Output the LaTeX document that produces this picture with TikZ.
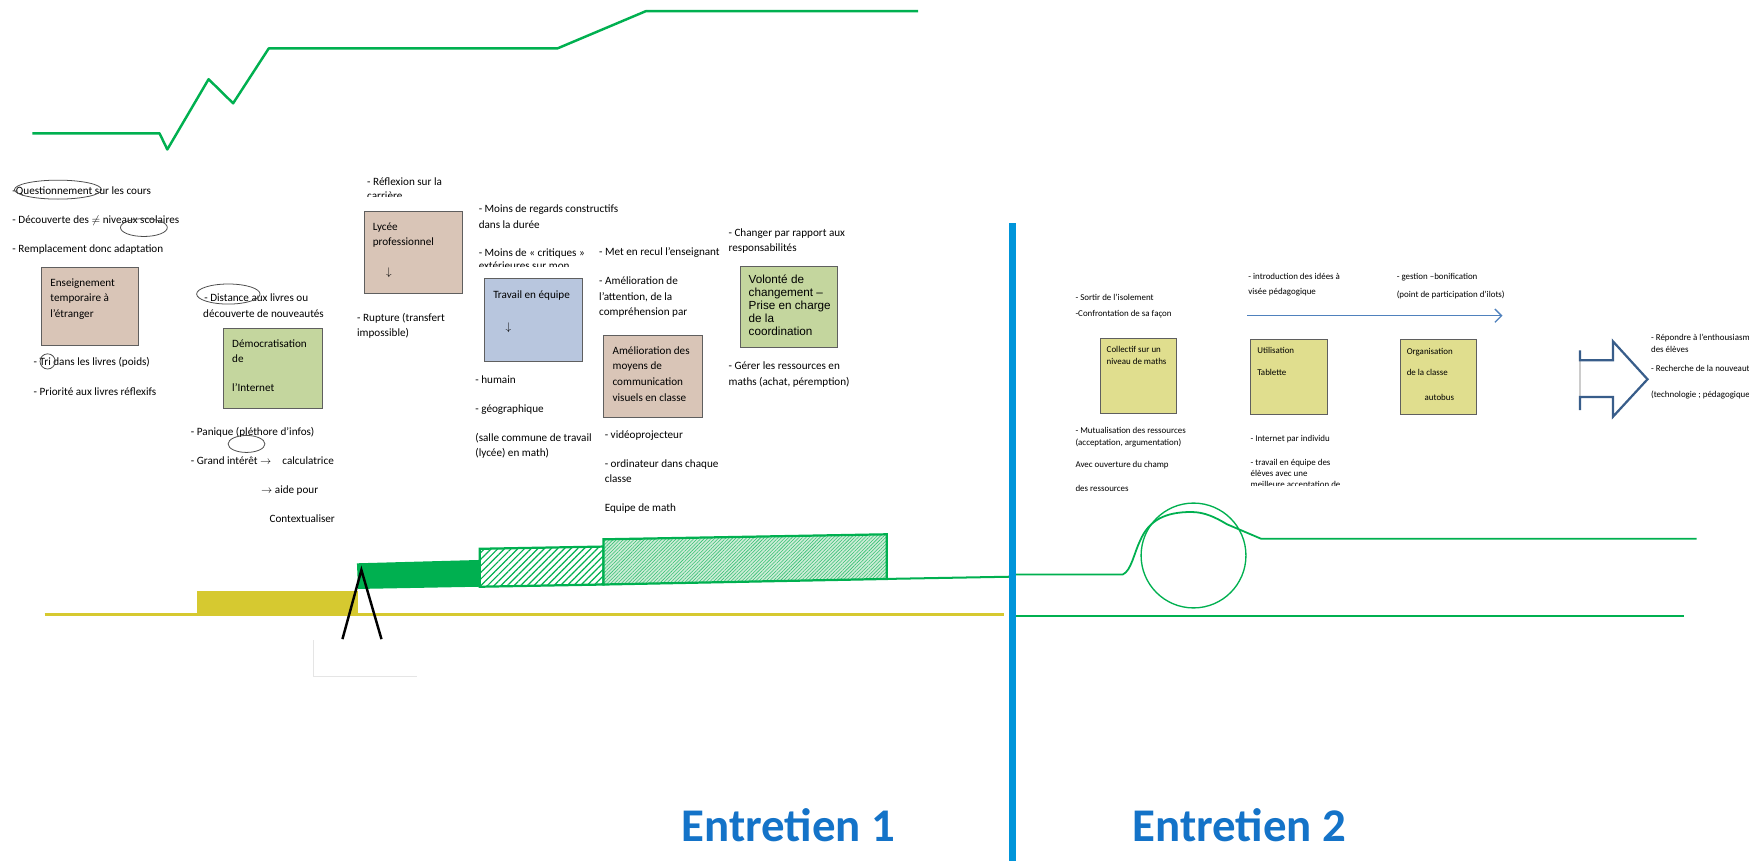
\documentclass[tikz,border=0pt]{standalone}
\usepackage{fontspec}
\setmainfont{Carlito}
\newfontfamily\arialfont{Liberation Sans}
\usetikzlibrary{arrows.meta,patterns.meta}

\definecolor{tanbox}{RGB}{217,197,183}
\definecolor{olivebox}{RGB}{196,214,158}
\definecolor{bluebox}{RGB}{184,198,222}
\definecolor{yellowbox}{RGB}{224,222,142}
\definecolor{cardgray}{RGB}{95,95,95}
\definecolor{timegreen}{RGB}{0,176,80}
\definecolor{palegreen}{RGB}{205,236,214}
\definecolor{oldyellow}{RGB}{214,201,48}
\definecolor{dividerblue}{RGB}{0,149,218}
\definecolor{labelblue}{RGB}{20,115,200}
\definecolor{steelarrow}{RGB}{79,129,189}
\definecolor{shapeblue}{RGB}{56,93,138}

% base west = baseline of the last line for multi-line texts
\tikzset{
  txt/.style={anchor=base west, inner sep=0pt, align=left, font=\fontsize{10}{14}\selectfont},
  smalltxt/.style={anchor=base west, inner sep=0pt, align=left, font=\fontsize{8}{10.5}\selectfont},
  card/.style={draw=cardgray, line width=0.9pt, anchor=north west, inner sep=0pt},
  ring/.style={draw=black!70, line width=0.7pt},
  growth/.style={draw=timegreen, line width=2.2pt, line join=round},
  entretien/.style={inner sep=0pt, text=labelblue, font=\fontsize{42}{48}\selectfont\bfseries},
}

\begin{document}
\begin{tikzpicture}[x=1pt,y=-1pt]
\fill[white] (0,0) rectangle (1568,772);
\useasboundingbox (0,0) rectangle (1568,772);

% courbe du haut
\draw[growth] (29,119.5) -- (143,119.5) -- (150,134) -- (187,71) -- (209,92.6)
  -- (241,43.3) -- (500,43.3) -- (579,10) -- (823,10);

% --- entretien 1 ---
\node[txt] (quest) at (11,174.5) {-Questionnement sur les cours};
\node[txt] (decouv) at (11,200.5) {- Découverte des $\neq$ niveaux scolaires};
\node[txt] (rempl) at (11,226.5) {- Remplacement donc adaptation};
\draw[ring] (52,170) ellipse [x radius=39, y radius=8.5];
\draw[ring] (129,204) ellipse [x radius=21, y radius=8];

\node[card, fill=tanbox, minimum width=87.5, minimum height=70] (ens) at (36.5,239) {};
\node[txt] (ensT) at (45,284.5) {Enseignement\\temporaire à\\l'étranger};
\node[txt] (tri) at (30,328) {- Tri dans les livres (poids)};
\node[txt] (prio) at (30,354.5) {- Priorité aux livres réflexifs};
\draw[ring] (42.7,324) circle [radius=6.8];

\node[txt] (dist) at (183,270) {- Distance aux livres ou};
\node[txt] (nouv) at (182,284.5) {découverte de nouveautés};
\draw[ring] (204.7,263.6) ellipse [x radius=28.4, y radius=9];
\node[card, fill=olivebox, minimum width=88.5, minimum height=72] (demo) at (200,294) {};
\node[txt, font=\fontsize{10}{13.3}\selectfont] (demoT) at (208,351.4) {Démocratisation\\de\\[13.3pt]l'Internet};
\node[txt] (pan) at (171,390) {- Panique (pléthore d'infos)};
\draw[ring] (221,398) ellipse [x radius=16.5, y radius=7.6];
\node[txt] (grand) at (171,416) {- Grand intérêt $\rightarrow$\quad calculatrice};
\node[txt] (aide) at (234,442) {$\rightarrow$ aide pour};
\node[txt] (cont) at (241.5,468) {Contextualiser};

\node[txt] (refl) at (329,166.5) {- Réflexion sur la};
\begin{scope}
  \clip (320,165) rectangle (420,176.5);
  \node[txt] (carr) at (329,178.5) {carrière};
\end{scope}
\node[card, fill=tanbox, minimum width=88, minimum height=73.5] (lycee) at (326,189) {};
\node[txt] (lyceeT) at (334,220.5) {Lycée\\professionnel};
\node[txt] (lyceeA) at (346,247) {$\downarrow$};
\node[txt] (rupt) at (320,302) {- Rupture (transfert\\impossible)};

\node[txt] (regard) at (429,204.5) {- Moins de regards constructifs\\dans la durée};
\node[txt] (crit) at (429,229.5) {- Moins de « critiques »};
\begin{scope}
  \clip (420,233) rectangle (530,239);
  \node[txt] (exter) at (429,241.5) {extérieures sur mon};
\end{scope}
\node[card, fill=bluebox, minimum width=88, minimum height=74] (trav) at (434,249.5) {};
\node[txt] (travT) at (442,267.5) {Travail en équipe};
\node[txt] (travA) at (453,296) {$\downarrow$};
\node[txt] (hum) at (426,344) {- humain};
\node[txt] (geo) at (426,370) {- géographique};
\node[txt, font=\fontsize{10}{13.5}\selectfont] (salle) at (426,409.5) {(salle commune de travail\\(lycée) en math)};

\node[txt] (recul) at (537,229) {- Met en recul l'enseignant};
\node[txt] (atten) at (537,283) {- Amélioration de\\l'attention, de la\\compréhension par};
\node[card, fill=tanbox, minimum width=88, minimum height=74] (amel) at (541,300) {};
\node[txt] (amelT) at (549,359.5) {Amélioration des\\moyens de\\communication\\visuels en classe};
\node[txt] (video) at (542,393.5) {- vidéoprojecteur};
\node[txt, font=\fontsize{10}{13.5}\selectfont] (ordi) at (542,432.5) {- ordinateur dans chaque\\classe};
\node[txt] (equipe) at (542,459) {Equipe de math};

\node[txt, font=\fontsize{10}{13.5}\selectfont] (chang) at (653,225.5) {- Changer par rapport aux\\responsabilités};
\node[card, fill=olivebox, minimum width=87, minimum height=73] (vol) at (663.5,238.5) {};
\node[txt, font=\arialfont\fontsize{10.5}{11.5}\selectfont] (volT) at (671,300.5) {Volonté de\\changement –\\Prise en charge\\de la\\coordination};
\node[txt] (gerer) at (653,345.5) {- Gérer les ressources en\\maths (achat, péremption)};

% frise entretien 1
\fill[oldyellow] (177,530) rectangle (321,551);
\draw[oldyellow, line width=2.6pt] (40,551) -- (900,551);
\fill[timegreen] (320,505) -- (430,502) -- (430,526) -- (321,528) -- cycle;
\draw[timegreen, line width=2pt, pattern={Lines[angle=45,distance=4.2pt,line width=1.1pt]}, pattern color=timegreen]
  (430,492) -- (541,490) -- (541,524) -- (430,526) -- cycle;
\draw[timegreen, line width=2pt, preaction={fill=palegreen}, pattern={Lines[angle=45,distance=2.2pt,line width=0.5pt]}, pattern color=timegreen!80]
  (541,483.5) -- (795,479) -- (795,519) -- (541,524) -- cycle;
\draw[timegreen, line width=1.8pt] (795,519) -- (907,517);
\draw[black, line width=2.2pt] (307,573) -- (324,511) -- (342,573);
\draw[black!10, line width=0.8pt] (281,574) -- (281,606) -- (374,606);

% separation
\draw[dividerblue, line width=6.5pt] (907.5,200) -- (907.5,772);
\node[entretien] (ent1) at (707,740) {Entretien 1};
\node[entretien] (ent2) at (1111,740) {Entretien 2};

% --- entretien 2 ---
\node[smalltxt] (sortir) at (964,269) {- Sortir de l'isolement};
\node[smalltxt] (confr) at (964,284) {-Confrontation de sa façon};
\node[card, fill=yellowbox, minimum width=68, minimum height=67] (coll) at (986,303) {};
\node[smalltxt] (collT) at (992,326.5) {Collectif sur un\\niveau de maths};
\node[smalltxt] (mutu) at (964,399.5) {- Mutualisation des ressources\\(acceptation, argumentation)};
\node[smalltxt] (ouv) at (964,419) {Avec ouverture du champ};
\node[smalltxt] (desres) at (964,441) {des ressources};

\node[smalltxt, font=\fontsize{8}{13.5}\selectfont] (intro) at (1119,264) {- introduction des idées à\\visée pédagogique};
\node[smalltxt] (gest) at (1252,250.5) {- gestion –bonification};
\node[smalltxt] (point) at (1252,267) {(point de participation d'ilots)};
\coordinate (flecheA) at (1118,283);
\coordinate (flecheB) at (1347,283);
\draw[steelarrow, line width=1.2pt, -{Straight Barb[length=6pt,width=12pt]}] (flecheA) -- (flecheB);

\node[card, fill=yellowbox, minimum width=69, minimum height=67] (util) at (1121,304) {};
\node[smalltxt] (utilT) at (1127,317) {Utilisation};
\node[smalltxt] (tabl) at (1127,337) {Tablette};
\node[smalltxt] (inter) at (1121,396) {- Internet par individu};
\node[smalltxt, font=\fontsize{8}{10}\selectfont] (travEl) at (1121,427) {- travail en équipe des\\élèves avec une};
\begin{scope}
  \clip (1115,430) rectangle (1240,435);
  \node[smalltxt] (meill) at (1121,437) {meilleure acceptation de};
\end{scope}

\node[card, fill=yellowbox, minimum width=68, minimum height=67] (orga) at (1255,304) {};
\node[smalltxt] (orgaT) at (1261,318) {Organisation};
\node[smalltxt] (classe) at (1261,337) {de la classe};
\node[smalltxt] (autob) at (1277,359) {autobus};

% grosse fleche
\draw[black!20, line width=1pt] (1416.5,323) -- (1416.5,356);
\draw[shapeblue, line width=2pt, line join=miter] (1416.5,314) -- (1416.5,323) -- (1446,323) -- (1446,306)
  -- (1477,340) -- (1446,373.6) -- (1446,356) -- (1416.5,356) -- (1416.5,367.6);
\node[smalltxt] (repon) at (1480,305) {- Répondre à l'enthousiasme};
\node[smalltxt] (eleves) at (1480,316) {des élèves};
\node[smalltxt] (rech) at (1480,333) {- Recherche de la nouveauté};
\node[smalltxt] (techno) at (1480,356) {(technologie ; pédagogique)};

% frise entretien 2
\draw[timegreen, line width=1.6pt] (911,515) -- (1006.6,515)
  .. controls (1014,512) and (1017,495) .. (1022,485)
  .. controls (1030,466) and (1045,459) .. (1068,459)
  .. controls (1080,459) and (1090,464) .. (1100,470) -- (1130.6,483) -- (1521,483);
\draw[timegreen, line width=1.2pt] (1070,498) circle [radius=47];
\draw[timegreen, line width=1.6pt] (911,552) -- (1510,552);
\end{tikzpicture}
\end{document}
